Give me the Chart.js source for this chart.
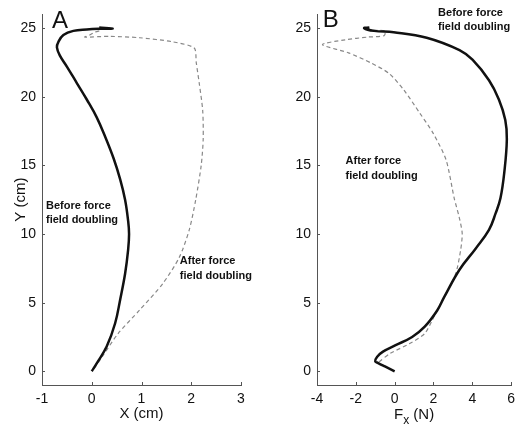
<!DOCTYPE html>
<html>
<head>
<meta charset="utf-8">
<script src="https://cdn.jsdelivr.net/npm/chart.js@4/dist/chart.umd.min.js"></script>
<style>
  body { margin: 0; background: #fff; }
  #wrap { position: relative; width: 521px; height: 428px; }
  canvas { position: absolute; top: 0; }
</style>
</head>
<body>
<div id="wrap">
  <canvas id="chartA" width="260" height="428" style="left:0"></canvas>
  <canvas id="chartB" width="261" height="428" style="left:260px"></canvas>
</div>
<script>
// Panel A: hand path, X (cm) vs Y (cm)
const posBeforeX = [0, 0.1, 0.3, 0.47, 0.57, 0.67, 0.73, 0.75, 0.73, 0.67, 0.57, 0.44, 0.28, 0.1, -0.1, -0.3, -0.5, -0.64, -0.7, -0.67, -0.57, -0.37, -0.1, 0.17, 0.42, 0.15];
const posBeforeY = [0, 0.58, 1.8, 3.5, 5.2, 7.1, 8.8, 10.0, 11.0, 12.5, 14.0, 15.5, 17.0, 18.5, 19.8, 21.0, 22.2, 23.0, 23.6, 24.0, 24.5, 24.8, 24.9, 24.95, 24.97, 25.05];
const posAfterX = [0.05, 0.2, 0.53, 0.96, 1.43, 1.76, 1.96, 2.09, 2.2, 2.24, 2.23, 2.16, 2.1, 2.06, 1.63, 0.96, 0.36, -0.14, -0.04, 0.06, 0.2];
const posAfterY = [0.2, 1.0, 2.75, 4.45, 6.4, 8.3, 10.3, 12.5, 15.0, 16.9, 19.0, 21.0, 22.5, 23.55, 24.0, 24.3, 24.4, 24.35, 24.5, 24.7, 24.85];

// Panel B: force Fx (N) vs Y (cm)
const forceBeforeX = [0, -0.5, -0.85, -1.0, -0.9, -0.6, 0.05, 0.9, 1.55, 2.2, 2.55, 3.34, 4.18, 4.86, 5.2, 5.45, 5.65, 5.78, 5.7, 5.37, 4.86, 4.01, 3.34, 1.65, -0.05, -1.06, -1.57, -1.3];
const forceBeforeY = [0, 0.35, 0.6, 0.72, 1.06, 1.43, 1.9, 2.5, 3.25, 4.45, 5.4, 7.4, 8.95, 10.3, 11.5, 12.6, 14.5, 16.9, 18.3, 19.8, 21.2, 22.7, 23.4, 24.3, 24.7, 24.8, 25.0, 25.05];
const forceAfterX = [-0.8, -0.23, 0.75, 1.55, 2.07, 2.4, 2.65, 3.15, 3.4, 3.48, 3.32, 3.07, 2.65, 1.98, 1.3, 0.47, -0.29, -1.2, -2.38, -3.72, -2.55, -1.37, -0.54, -0.5, -1.1];
const forceAfterY = [0.7, 1.3, 2.0, 2.75, 4.1, 5.0, 5.67, 7.13, 8.83, 10.05, 11.26, 12.6, 15.4, 17.35, 18.8, 20.5, 21.7, 22.45, 23.2, 23.8, 24.15, 24.35, 24.45, 24.8, 24.85];

// Tick labels
const yTicks = [0, 5, 10, 15, 20, 25];
const xTicksA = [-1, 0, 1, 2, 3];
const xTicksB = [-4, -2, 0, 2, 4, 6];

const axisColor = '#555';
const textColor = '#111';
const fontFamily = '"Liberation Sans", Arial, sans-serif';

function toPoints(xs, ys) {
    return xs.map((x, i) => ({ x: x, y: ys[i] }));
}

// Inward tick marks on the left and bottom axes
const innerTicks = {
    id: 'innerTicks',
    afterDraw(chart) {
        const { ctx, chartArea, scales } = chart;
        ctx.save();
        ctx.strokeStyle = axisColor;
        ctx.lineWidth = 1;
        scales.x.ticks.forEach(t => {
            const px = Math.round(scales.x.getPixelForValue(t.value)) + 0.5;
            ctx.beginPath();
            ctx.moveTo(px, chartArea.bottom);
            ctx.lineTo(px, chartArea.bottom - 3);
            ctx.stroke();
        });
        scales.y.ticks.forEach(t => {
            const py = Math.round(scales.y.getPixelForValue(t.value)) + 0.5;
            ctx.beginPath();
            ctx.moveTo(chartArea.left, py);
            ctx.lineTo(chartArea.left + 3, py);
            ctx.stroke();
        });
        ctx.restore();
    }
};

// Text notes placed in data coordinates, plus an optional x title with a subscript
const notes = {
    id: 'notes',
    afterDraw(chart, args, opts) {
        const { ctx, scales, chartArea } = chart;
        ctx.save();
        ctx.fillStyle = textColor;
        ctx.textAlign = 'left';
        (opts.items || []).forEach(n => {
            ctx.font = n.font;
            ctx.textBaseline = n.baseline || 'middle';
            ctx.fillText(n.text, scales.x.getPixelForValue(n.x), scales.y.getPixelForValue(n.y));
        });
        if (opts.subTitle) {
            // pieces: [text, size, drop]
            const parts = opts.subTitle;
            ctx.textBaseline = 'alphabetic';
            let total = 0;
            parts.forEach(p => { ctx.font = p[1] + 'px ' + fontFamily; total += ctx.measureText(p[0]).width; });
            let x = (chartArea.left + chartArea.right) / 2 - total / 2;
            const base = opts.subTitleBase;
            parts.forEach(p => {
                ctx.font = p[1] + 'px ' + fontFamily;
                ctx.fillText(p[0], x, base + p[2]);
                x += ctx.measureText(p[0]).width;
            });
        }
        ctx.restore();
    }
};

function makePanel(id, opt) {
    const ctx = document.getElementById(id).getContext('2d');
    return new Chart(ctx, {
        type: 'scatter',
        data: {
            datasets: [{
                label: 'Before force field doubling',
                data: opt.before,
                showLine: true,
                borderColor: '#111',
                borderWidth: 2.5,
                pointRadius: 0,
                tension: 0.4,
                order: 1
            }, {
                label: 'After force field doubling',
                data: opt.after,
                showLine: true,
                borderColor: '#888',
                borderWidth: 1.2,
                borderDash: [4, 3],
                pointRadius: 0,
                tension: 0.25,
                order: 2
            }]
        },
        options: {
            responsive: false,
            animation: false,
            devicePixelRatio: 1,
            layout: { padding: { top: 14, right: opt.padRight, bottom: 0, left: 0 } },
            plugins: {
                legend: { display: false },
                tooltip: { enabled: false },
                notes: { items: opt.notes, subTitle: opt.subTitle, subTitleBase: 419 }
            },
            scales: {
                x: {
                    type: 'linear',
                    min: opt.xMin,
                    max: opt.xMax,
                    afterBuildTicks: s => { s.ticks = opt.xTicks.map(v => ({ value: v })); },
                    afterFit: s => { s.height = 43; },
                    grid: { display: false, drawTicks: false },
                    border: { display: true, color: axisColor, width: 1 },
                    ticks: { padding: 6, color: textColor, font: { family: fontFamily, size: 14 } },
                    title: {
                        display: !!opt.xTitle,
                        text: opt.xTitle,
                        color: textColor,
                        font: { family: fontFamily, size: 15 },
                        padding: { top: 0, bottom: 5 }
                    }
                },
                y: {
                    type: 'linear',
                    min: -1,
                    max: 26,
                    afterBuildTicks: s => { s.ticks = yTicks.map(v => ({ value: v })); },
                    afterFit: s => { s.width = opt.yWidth; },
                    grid: { display: false, drawTicks: false },
                    border: { display: true, color: axisColor, width: 1 },
                    ticks: { padding: 6, color: textColor, font: { family: fontFamily, size: 14 } },
                    title: {
                        display: !!opt.yTitle,
                        text: opt.yTitle,
                        color: textColor,
                        font: { family: fontFamily, size: 15 },
                        padding: { top: 12, bottom: 0 }
                    }
                }
            }
        },
        plugins: [innerTicks, notes]
    });
}

const noteFont = 'bold 11px ' + fontFamily;
const letterFont = '24px ' + fontFamily;

makePanel('chartA', {
    before: toPoints(posBeforeX, posBeforeY),
    after: toPoints(posAfterX, posAfterY),
    xMin: -1, xMax: 3, xTicks: xTicksA,
    xTitle: 'X (cm)', yTitle: 'Y (cm)',
    yWidth: 42, padRight: 19,
    notes: [
        { text: 'A', x: -0.8, y: 24.98, font: letterFont, baseline: 'alphabetic' },
        { text: 'Before force', x: -0.92, y: 12.03, font: noteFont },
        { text: 'field doubling', x: -0.92, y: 11.01, font: noteFont },
        { text: 'After force', x: 1.77, y: 8.03, font: noteFont },
        { text: 'field doubling', x: 1.77, y: 6.94, font: noteFont }
    ]
});

makePanel('chartB', {
    before: toPoints(forceBeforeX, forceBeforeY),
    after: toPoints(forceAfterX, forceAfterY),
    xMin: -4, xMax: 6, xTicks: xTicksB,
    xTitle: '', yTitle: '',
    subTitle: [['F', 15, 0], ['x', 12, 5], [' (N)', 15, 0]],
    yWidth: 57, padRight: 7,
    notes: [
        { text: 'B', x: -3.7, y: 25.06, font: letterFont, baseline: 'alphabetic' },
        { text: 'Before force', x: 2.24, y: 26.1, font: noteFont },
        { text: 'field doubling', x: 2.24, y: 25.1, font: noteFont },
        { text: 'After force', x: -2.53, y: 15.3, font: noteFont },
        { text: 'field doubling', x: -2.53, y: 14.25, font: noteFont }
    ]
});
</script>
</body>
</html>
